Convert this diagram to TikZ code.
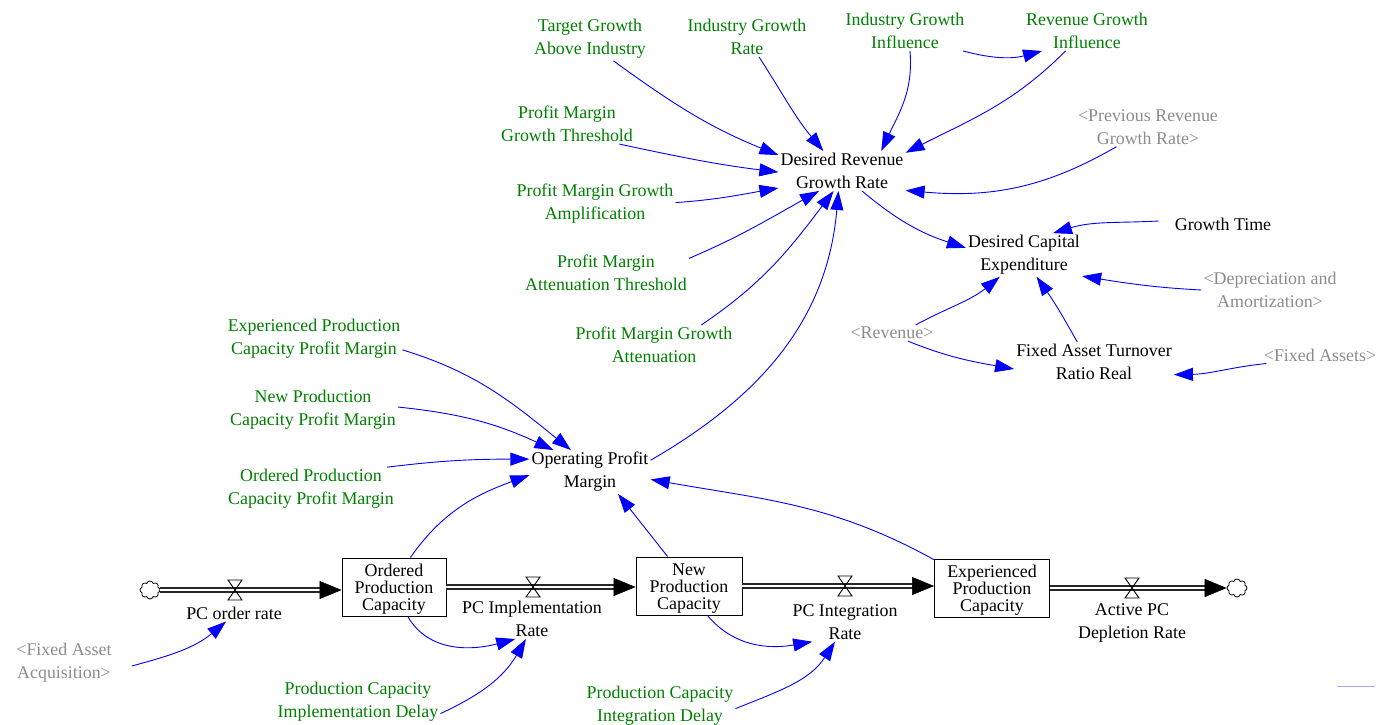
\documentclass[tikz,border=0pt]{standalone}
\usepackage{fontspec}
\setmainfont{Liberation Serif}
\usetikzlibrary{arrows.meta,shapes.symbols,calc}
\definecolor{vgreen}{RGB}{0,128,0}
\definecolor{vgrey}{RGB}{140,140,140}
\begin{document}
\begin{tikzpicture}[x=1pt,y=1pt,
  every node/.style={font=\fontsize{17.9}{23}\selectfont, align=center, inner sep=2pt},
  gv/.style={text=vgreen, yshift=-2pt},
  sh/.style={text=vgrey, yshift=-2pt},
  bk/.style={text=black, yshift=-2pt},
  stock/.style={draw, line width=0.9pt, minimum height=58pt, inner sep=1pt},
  stocktext/.style={font=\fontsize{17.9}{17}\selectfont, yshift=-2.5pt, inner sep=0pt},
  link/.style={draw=blue, line width=0.9pt, -{Triangle[length=19pt,width=13pt]}},
  pipe/.style={draw=black!85, double=white, double distance=2.7pt, line width=1.3pt, shorten >=18pt},
  pipehead/.style={-{Triangle[length=22pt,width=18pt]}, line width=0.5pt},
  sink/.style={cloud, draw, cloud puffs=8, aspect=1.1, minimum width=20pt, minimum height=18pt, inner sep=0pt, line width=0.8pt},
  valve/.pic={\draw[line width=0.9pt] (-7,10) -- (7,10) -- (-7,-10) -- (7,-10) -- cycle;}
]
\useasboundingbox (0,0) rectangle (1378,-725);

% auxiliary / constant nodes
\node[gv] (tg) at (590,-37) {Target Growth\\Above Industry};
\node[gv] (igr) at (747,-35) {Industry Growth\\Rate};
\node[gv] (igi) at (905,-29) {Industry Growth\\Influence};
\node[gv] (rgi) at (1087,-29) {Revenue Growth\\Influence};
\node[sh] (prgr) at (1148,-125) {<Previous Revenue\\Growth Rate>};
\node[gv] (pmgt) at (567,-122) {Profit Margin\\Growth Threshold};
\node[bk] (drgr) at (842,-169) {Desired Revenue\\Growth Rate};
\node[gv] (pmga) at (595,-202) {Profit Margin Growth\\Amplification};
\node[gv] (pmat) at (606,-271) {Profit Margin\\Attenuation Threshold};
\node[bk] (gt) at (1223,-222) {Growth Time};
\node[bk] (dce) at (1024,-253) {Desired Capital\\Expenditure};
\node[sh] (dam) at (1270,-288) {<Depreciation and\\Amortization>};
\node[sh] (rev) at (892,-331) {<Revenue>};
\node[bk] (fatr) at (1094,-360) {Fixed Asset Turnover\\Ratio Real};
\node[sh] (fa) at (1320,-353) {<Fixed Assets>};
\node[gv] (pmgatt) at (654,-343) {Profit Margin Growth\\Attenuation};
\node[gv] (epcpm) at (314,-337) {Experienced Production\\Capacity Profit Margin};
\node[gv] (npcpm) at (313,-408) {New Production\\Capacity Profit Margin};
\node[gv] (opcpm) at (311,-487) {Ordered Production\\Capacity Profit Margin};
\node[bk] (opm) at (590,-470) {Operating Profit\\Margin};
\node[sh] (faa) at (64,-661) {<Fixed Asset\\Acquisition>};
\node[gv] (pcid) at (358,-700) {Production Capacity\\Implementation Delay};
\node[gv] (pcintd) at (660,-704) {Production Capacity\\Integration Delay};

% stocks
\node[stock, minimum width=104pt, label={[stocktext]center:Ordered\\Production\\Capacity}] (opc) at (394,-587) {};
\node[stock, minimum width=106pt, label={[stocktext]center:New\\Production\\Capacity}] (npc) at (689,-586) {};
\node[stock, minimum width=115pt, label={[stocktext]center:Experienced\\Production\\Capacity}] (epc) at (992,-588) {};

% clouds
\node[sink] (cl) at (150,-590) {};
\node[sink] (cr) at (1237,-588) {};

% flow labels
\node[bk] (pcor) at (234,-611) {PC order rate};
\node[bk] (pcir) at (532,-617) {PC Implementation\\Rate};
\node[bk] (pcintr) at (845,-620) {PC Integration\\Rate};
\node[bk] (apcdr) at (1132,-621) {Active PC\\Depletion Rate};

% pipes
\coordinate (p1e) at (cl.east -| opc.west);
\coordinate (p2e) at (opc.east -| npc.west);
\coordinate (p3e) at (npc.east -| epc.west);
\coordinate (p4s) at (cr.west -| epc.east);
\draw[pipe] (cl.east) -- (p1e);
\draw[pipehead] ($(p1e)+(-22,0)$) -- (p1e);
\draw[pipe] (opc.east) -- (p2e);
\draw[pipehead] ($(p2e)+(-22,0)$) -- (p2e);
\draw[pipe] (npc.east) -- (p3e);
\draw[pipehead] ($(p3e)+(-22,0)$) -- (p3e);
\draw[pipe] (p4s) -- (cr.west);
\draw[pipehead] ($(cr.west)+(-22,0)$) -- (cr.west);

% valves
\pic at (235,-590) {valve};
\pic at (533,-587) {valve};
\pic at (845,-586) {valve};
\pic at (1132,-588) {valve};

% links
\draw[link] (tg.-43) to[out=-36,in=158] (drgr.166);
\draw[link] (igr.-59) to[out=-57,in=130] (drgr.133);
\draw[link] (igi.-76) to[out=-85,in=65] (drgr.27);
\draw[link] (rgi.-137) to[out=-135,in=27] (drgr.16);
\draw[link] (igi.-19) to[out=-15,in=195] (rgi.204);
\draw[link] (prgr.-148) to[out=210,in=-5] (drgr.-17);
\draw[link] (pmgt.-21) to[out=-12,in=173] (drgr.181);
\draw[link] (pmga.1) to[out=4,in=190] (drgr.195);
\draw[link] (pmat.10) to[out=23,in=209] (drgr.221);
\draw[link] (pmgatt.23) to[out=34,in=233] (drgr.247);
\draw[link] (opm.11) to[out=30,in=265] (drgr.260);
\draw[link] (drgr.-45) to[out=-40,in=162] (dce.173);
\draw[link] ($(gt.west)+(-14,3)$) to[out=183,in=17] (dce.37);
\draw[link] (dam.180) to[out=177,in=-9] (dce.-20);
\draw[link] (rev.19) to[out=28,in=219] (dce.222);
\draw[link] (fatr.130) to[out=119,in=-55] (dce.-60);
\draw[link] (rev.-27) to[out=-22,in=170] (fatr.185);
\draw[link] (fa.189) to[out=186,in=1] (fatr.-9);
\draw[link] (epcpm.-7) to[out=-17,in=141] (opm.131);
\draw[link] (npcpm.2) to[out=-6,in=155] (opm.149);
\draw[link] (opcpm.16) to[out=7,in=180] (opm.168);
\draw[link] (opc.61) to[out=55,in=200] (opm.183);
\draw[link] (npc.126) -- (opm.-38);
\draw[link] (epc.154) to[out=151,in=-10] (opm.-7);
\draw[link] (opc.-65) to[out=-60,in=195] (pcir.230);
\draw[link] (pcid.-8) to[out=25,in=240] (pcir.253);
\draw[link] (npc.-58) to[out=-50,in=190] (pcintr.211);
\draw[link] (pcintd.-2) to[out=22,in=237] (pcintr.243);
\draw[link] ($(faa.east)+(18,-3)$) to[out=15,in=220] (pcor.227);

% faint stray mark
\draw[blue!35, line width=1pt] (1337,-686) -- (1375,-686);
\end{tikzpicture}
\end{document}
